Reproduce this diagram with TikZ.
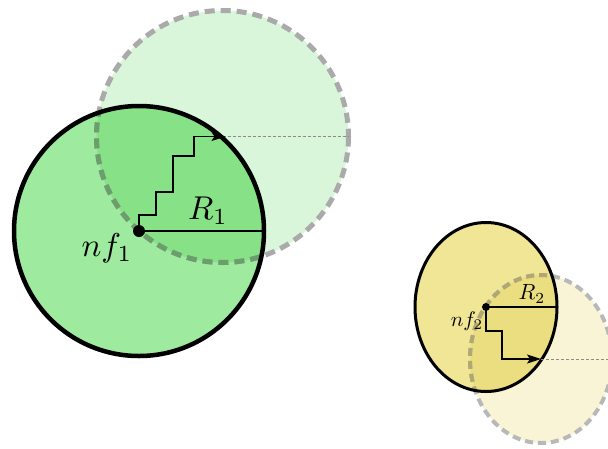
\documentclass[tikz,border=0pt]{standalone}
\usetikzlibrary{arrows.meta}
\definecolor{gbig}{RGB}{158,234,158}
\definecolor{gghost}{RGB}{218,246,218}
\definecolor{gover}{RGB}{135,225,135}
\definecolor{yb}{RGB}{240,230,150}
\definecolor{yghost}{RGB}{249,244,214}
\definecolor{yover}{RGB}{235,222,128}
\definecolor{dashgray}{RGB}{170,170,170}
\definecolor{dashgreen}{RGB}{106,158,106}
\definecolor{dashgrayy}{RGB}{184,184,184}
\definecolor{dashyellow}{RGB}{176,168,112}
\definecolor{dotgray}{RGB}{140,140,140}
\tikzset{
  ghostdashA/.style={line width=5pt, dash pattern=on 10pt off 6pt},
  ghostdashB/.style={line width=4pt, dash pattern=on 8pt off 5pt},
  stair/.style={line width=1.6pt, -{Stealth[length=14pt,width=9pt,inset=3pt]}},
  radline/.style={line width=1.6pt},
  dotline/.style={line width=0.9pt, dotgray, dash pattern=on 3pt off 2pt},
}
\begin{document}
\begin{tikzpicture}[x=1pt,y=-1pt]
\useasboundingbox (0,0) rectangle (608,448);
\clip (0,0) rectangle (608,448);
% ---------- green pair ----------
\coordinate (c1) at (139,231);
\coordinate (g1) at (222.5,136.5);
\coordinate (r1) at (264,231);
\fill[gghost] (g1) circle[radius=126];
\fill[gbig] (c1) circle[radius=125];
\begin{scope}
  \clip (c1) circle[radius=125];
  \fill[gover] (g1) circle[radius=126];
\end{scope}
\draw[ghostdashA, dashgray] (g1) circle[radius=126];
\begin{scope}
  \clip (c1) circle[radius=125];
  \draw[ghostdashA, dashgreen] (g1) circle[radius=126];
\end{scope}
\draw[line width=4.5pt] (c1) circle[radius=125];
\draw[dotline] (g1) -- ++(125.5,0) coordinate (g1r);
\draw[stair] (c1) |- (156,215) |- (173,192) |- (194,156) |- ([xshift=3pt]g1);
\draw[radline] (c1) -- (r1);
\fill (c1) circle[radius=6];
\node[scale=3.3] (lr1) at (208,211) {$R_1$};
\node[scale=3.3] (ln1) at (107,248) {$nf_1$};
% ---------- yellow pair ----------
\coordinate (e1) at (486,307);
\coordinate (e2) at (541,359);
\coordinate (r2) at (557,307);
\fill[yghost] (e2) ellipse[x radius=71, y radius=84];
\fill[yb] (e1) ellipse[x radius=71, y radius=84.5];
\begin{scope}
  \clip (e1) ellipse[x radius=71, y radius=84.5];
  \fill[yover] (e2) ellipse[x radius=71, y radius=84];
\end{scope}
\draw[ghostdashB, dashgrayy] (e2) ellipse[x radius=71, y radius=84];
\begin{scope}
  \clip (e1) ellipse[x radius=71, y radius=84.5];
  \draw[ghostdashB, dashyellow] (e2) ellipse[x radius=71, y radius=84];
\end{scope}
\draw[line width=3pt] (e1) ellipse[x radius=71, y radius=84.5];
\draw[dotline] (e2) -- ++(71,0) coordinate (e2r);
\draw[stair] (e1) |- (502,331) |- (e2);
\draw[radline] (e1) -- (r2);
\fill (e1) circle[radius=4];
\node[scale=2.2] (lr2) at (532,294) {$R_2$};
\node[scale=2.1] (ln2) at (467,321) {$nf_2$};
\end{tikzpicture}
\end{document}
